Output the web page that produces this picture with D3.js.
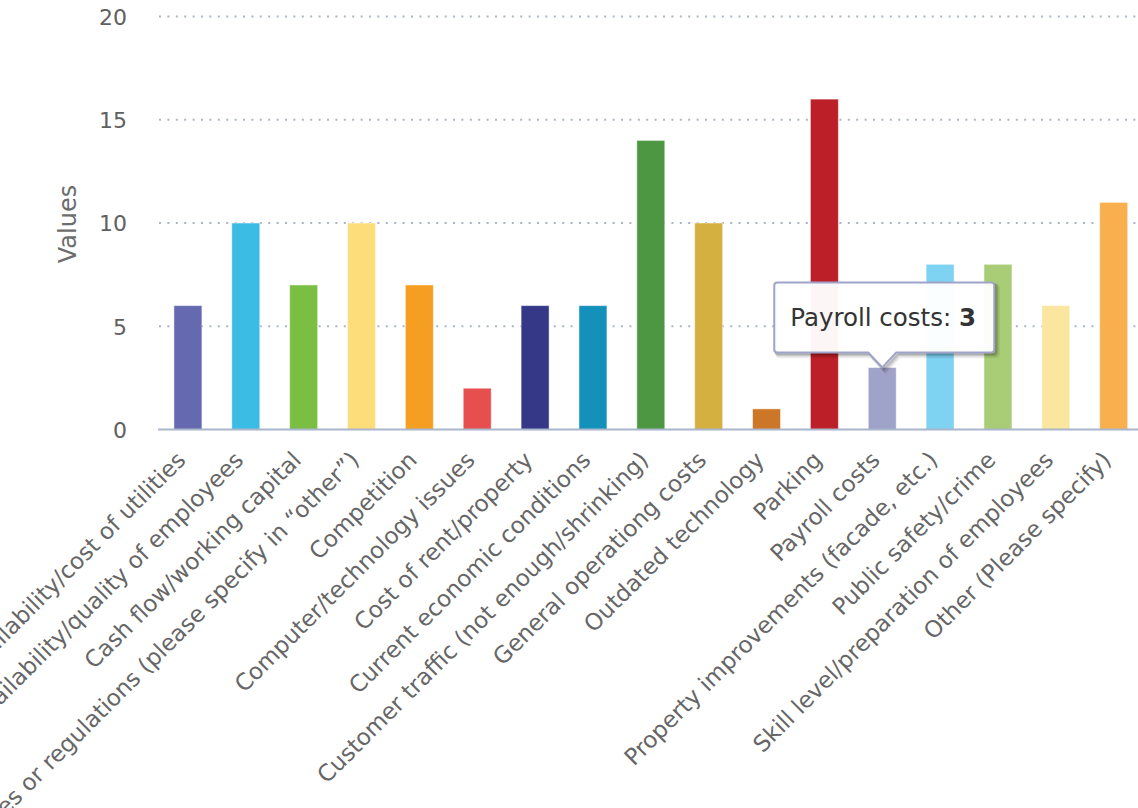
<!DOCTYPE html>
<html>
<head>
<meta charset="utf-8">
<script src="https://cdn.jsdelivr.net/npm/d3@7"></script>
<style>
  html, body { margin: 0; padding: 0; background: #fff; }
  svg { display: block; font-family: "DejaVu Sans", Verdana, sans-serif; }
</style>
</head>
<body>
<svg id="chart" width="1138" height="808"></svg>
<script>
// Business challenges survey: number of responses per issue
const categories = [
  "Availability/cost of utilities",
  "Availability/quality of employees",
  "Cash flow/working capital",
  "Government policies or regulations (please specify in “other”)",
  "Competition",
  "Computer/technology issues",
  "Cost of rent/property",
  "Current economic conditions",
  "Customer traffic (not enough/shrinking)",
  "General operationg costs",
  "Outdated technology",
  "Parking",
  "Payroll costs",
  "Property improvements (facade, etc.)",
  "Public safety/crime",
  "Skill level/preparation of employees",
  "Other (Please specify)"
];
const values = [6, 10, 7, 10, 7, 2, 6, 6, 14, 10, 1, 16, 3, 8, 8, 6, 11];
const colors = [
  "#6469b0", "#3bbce4", "#7abf44", "#fddc7a", "#f59e21", "#e74f4f",
  "#343887", "#1491bb", "#4e9742", "#d4b040", "#cc7727", "#bc1f27",
  "#a0a3c9", "#7ed2f2", "#a9cd77", "#fbe6a0", "#f9af4d"
];
const yTicks = [0, 5, 10, 15, 20];
const yTitle = "Values";
const hoveredIndex = 12; // tooltip shown for "Payroll costs"

const W = 1138, H = 808;
const plot = { left: 159, top: 16.5, bottom: 429.5, step: 57.86 };
const barWidth = 28;

const svg = d3.select("#chart");

const x = d3.scaleBand()
  .domain(categories)
  .range([plot.left, plot.left + plot.step * categories.length])
  .paddingInner(1 - barWidth / plot.step)
  .paddingOuter((1 - barWidth / plot.step) / 2);

const y = d3.scaleLinear().domain([0, 20]).range([plot.bottom, plot.top]);

// dotted horizontal grid
svg.append("g")
  .selectAll("line")
  .data(yTicks.filter(d => d > 0))
  .join("line")
  .attr("x1", plot.left)
  .attr("x2", W)
  .attr("y1", d => y(d))
  .attr("y2", d => y(d))
  .attr("stroke", "#aab4c8")
  .attr("stroke-width", 2)
  .attr("stroke-dasharray", "2,6.4");

// y axis tick labels
const yAxis = d3.axisLeft(y).tickValues(yTicks).tickSize(0).tickPadding(0).tickFormat(d3.format("d"));
const gy = svg.append("g").attr("transform", "translate(127,0)").call(yAxis);
gy.select(".domain").remove();
gy.selectAll("text")
  .attr("fill", "#606060")
  .style("font-family", "'DejaVu Sans', sans-serif")
  .style("font-size", "22px")
  .attr("dy", "0.36em");

// y axis title
svg.append("text")
  .attr("transform", `translate(76,224) rotate(-90)`)
  .attr("text-anchor", "middle")
  .attr("fill", "#6d6d6d")
  .style("font-size", "24px")
  .text(yTitle);

// bars
svg.append("g")
  .selectAll("rect")
  .data(values)
  .join("rect")
  .attr("x", (d, i) => x(categories[i]))
  .attr("width", x.bandwidth())
  .attr("y", d => y(d))
  .attr("height", d => y(0) - y(d))
  .attr("fill", (d, i) => colors[i])
  .attr("stroke", "#ffffff")
  .attr("stroke-opacity", 0.5)
  .attr("stroke-width", 1);

// x axis line
svg.append("line")
  .attr("x1", 158).attr("x2", W)
  .attr("y1", plot.bottom).attr("y2", plot.bottom)
  .attr("stroke", "#aab6cc")
  .attr("stroke-width", 2);

// rotated category labels
const xAxis = d3.axisBottom(x).tickSize(0).tickPadding(0);
const gx = svg.append("g").attr("transform", `translate(0,${plot.bottom})`).call(xAxis);
gx.select(".domain").remove();
gx.selectAll("text")
  .attr("fill", "#666666")
  .style("font-family", "'DejaVu Sans', sans-serif")
  .style("font-size", "23px")
  .attr("text-anchor", "end")
  .attr("dy", null)
  .attr("y", null)
  .attr("transform", "translate(-1,32) rotate(-45)");

// tooltip callout on the hovered bar
const tipX = x(categories[hoveredIndex]) + x.bandwidth() / 2;
const tipY = y(values[hoveredIndex]);
const tip = svg.append("g");
const boxW = 220, boxH = 70, arrow = 15;
const bx = tipX - 108, by = tipY - arrow - boxH;
const calloutPath = `M${bx + 3},${by} H${bx + boxW - 3} Q${bx + boxW},${by} ${bx + boxW},${by + 3}
  V${by + boxH - 3} Q${bx + boxW},${by + boxH} ${bx + boxW - 3},${by + boxH}
  H${tipX + 14} L${tipX},${tipY} L${tipX - 14},${by + boxH}
  H${bx + 3} Q${bx},${by + boxH} ${bx},${by + boxH - 3} V${by + 3} Q${bx},${by} ${bx + 3},${by} Z`;

// soft shadow layers
[[5, 0.05], [4, 0.08], [3, 0.1], [2, 0.12]].forEach(([off, op]) => {
  tip.append("path")
    .attr("d", calloutPath)
    .attr("transform", `translate(${off / 1.5},${off / 1.5})`)
    .attr("fill", "none")
    .attr("stroke", "#000")
    .attr("stroke-opacity", op)
    .attr("stroke-width", off);
});
tip.append("path")
  .attr("d", calloutPath)
  .attr("fill", "rgba(255,255,255,0.96)")
  .attr("stroke", colors[hoveredIndex])
  .attr("stroke-width", 2);
const tt = tip.append("text")
  .attr("x", bx + 16)
  .attr("y", by + 43)
  .attr("fill", "#333333")
  .style("font-size", "24.5px");
tt.append("tspan").text(categories[hoveredIndex] + ": ");
tt.append("tspan").style("font-weight", "bold").text(values[hoveredIndex]);
</script>
</body>
</html>
